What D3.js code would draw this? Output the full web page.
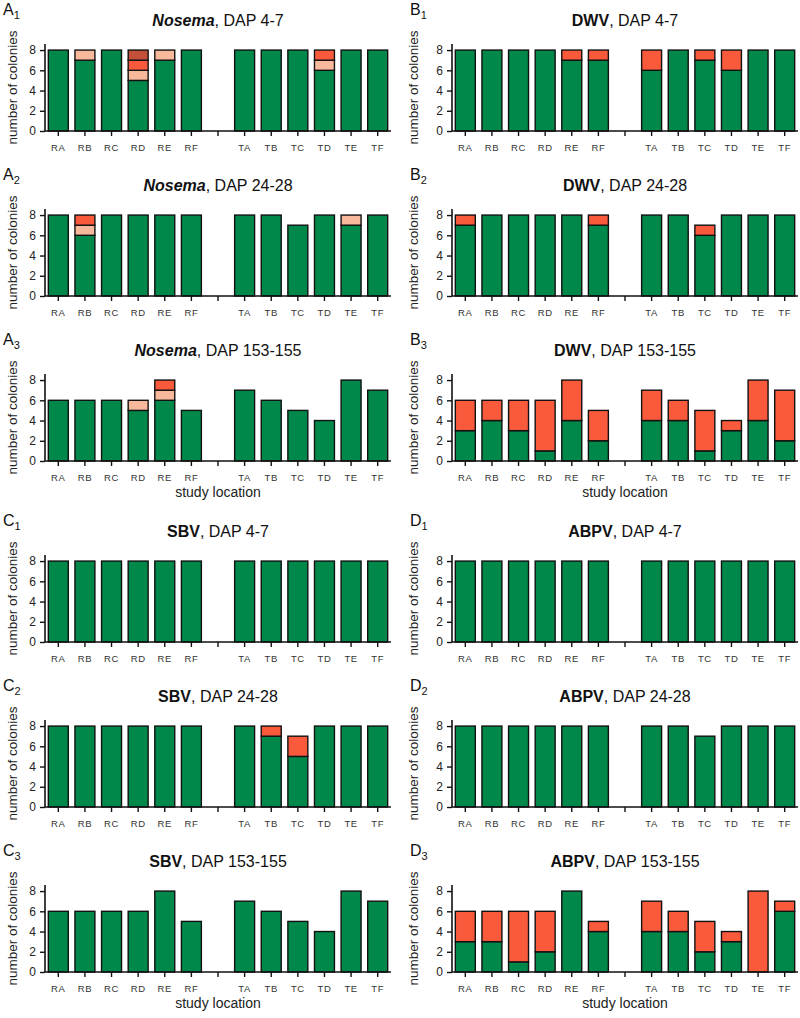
<!DOCTYPE html>
<html><head><meta charset="utf-8">
<script src="https://cdn.jsdelivr.net/npm/d3@7"></script>
<style>
body{margin:0;background:#fff;}
svg{display:block;font-family:Arial,"Liberation Sans",sans-serif;}
</style></head>
<body><svg id="c" width="800" height="1018"></svg>
<script>
// ---- data ----
const locations = ["RA","RB","RC","RD","RE","RF","gap","TA","TB","TC","TD","TE","TF"];
const sites = ["RA","RB","RC","RD","RE","RF","TA","TB","TC","TD","TE","TF"];
const yTicks = [0,2,4,6,8];
const seriesKeys = ["green","pink","red","dark"];
const seriesColors = {green:"#00884a", pink:"#f7b89c", red:"#fa5a3c", dark:"#c4503a"};

// Nosema
const A1_green=[8,7,8,5,7,8, 8,8,8,6,8,8];
const A1_pink =[0,1,0,1,1,0, 0,0,0,1,0,0];
const A1_red  =[0,0,0,1,0,0, 0,0,0,1,0,0];
const A1_dark =[0,0,0,1,0,0, 0,0,0,0,0,0];
const A2_green=[8,6,8,8,8,8, 8,8,7,8,7,8];
const A2_pink =[0,1,0,0,0,0, 0,0,0,0,1,0];
const A2_red  =[0,1,0,0,0,0, 0,0,0,0,0,0];
const A3_green=[6,6,6,5,6,5, 7,6,5,4,8,7];
const A3_pink =[0,0,0,1,1,0, 0,0,0,0,0,0];
const A3_red  =[0,0,0,0,1,0, 0,0,0,0,0,0];
// DWV
const B1_green=[8,8,8,8,7,7, 6,8,7,6,8,8];
const B1_red  =[0,0,0,0,1,1, 2,0,1,2,0,0];
const B2_green=[7,8,8,8,8,7, 8,8,6,8,8,8];
const B2_red  =[1,0,0,0,0,1, 0,0,1,0,0,0];
const B3_green=[3,4,3,1,4,2, 4,4,1,3,4,2];
const B3_red  =[3,2,3,5,4,3, 3,2,4,1,4,5];
// SBV
const C1_green=[8,8,8,8,8,8, 8,8,8,8,8,8];
const C2_green=[8,8,8,8,8,8, 8,7,5,8,8,8];
const C2_red  =[0,0,0,0,0,0, 0,1,2,0,0,0];
const C3_green=[6,6,6,6,8,5, 7,6,5,4,8,7];
// ABPV
const D1_green=[8,8,8,8,8,8, 8,8,8,8,8,8];
const D2_green=[8,8,8,8,8,8, 8,8,7,8,8,8];
const D3_green=[3,3,1,2,8,4, 4,4,2,3,0,6];
const D3_red  =[3,3,5,4,0,1, 3,2,3,1,8,1];

const zeros = sites.map(()=>0);
const panels = [
 {id:"A",n:"1",bold:"Nosema",italic:true,dap:"DAP 4-7",col:0,row:0,green:A1_green,pink:A1_pink,red:A1_red,dark:A1_dark},
 {id:"A",n:"2",bold:"Nosema",italic:true,dap:"DAP 24-28",col:0,row:1,green:A2_green,pink:A2_pink,red:A2_red},
 {id:"A",n:"3",bold:"Nosema",italic:true,dap:"DAP 153-155",col:0,row:2,green:A3_green,pink:A3_pink,red:A3_red,xlabel:true},
 {id:"B",n:"1",bold:"DWV",dap:"DAP 4-7",col:1,row:0,green:B1_green,red:B1_red},
 {id:"B",n:"2",bold:"DWV",dap:"DAP 24-28",col:1,row:1,green:B2_green,red:B2_red},
 {id:"B",n:"3",bold:"DWV",dap:"DAP 153-155",col:1,row:2,green:B3_green,red:B3_red,xlabel:true},
 {id:"C",n:"1",bold:"SBV",dap:"DAP 4-7",col:0,row:3,green:C1_green},
 {id:"C",n:"2",bold:"SBV",dap:"DAP 24-28",col:0,row:4,green:C2_green,red:C2_red},
 {id:"C",n:"3",bold:"SBV",dap:"DAP 153-155",col:0,row:5,green:C3_green,xlabel:true},
 {id:"D",n:"1",bold:"ABPV",dap:"DAP 4-7",col:1,row:3,green:D1_green},
 {id:"D",n:"2",bold:"ABPV",dap:"DAP 24-28",col:1,row:4,green:D2_green},
 {id:"D",n:"3",bold:"ABPV",dap:"DAP 153-155",col:1,row:5,green:D3_green,red:D3_red,xlabel:true},
];

// ---- layout ----
const colX = [45, 452];
const plotW = 346;
const rowZero = [131, 296, 461, 642, 807, 972];
const yLabelX = [12, 413];

const svg = d3.select("#c");

panels.forEach(p=>{
  const x0 = colX[p.col], zero = rowZero[p.row];
  const g = svg.append("g");
  const x = d3.scaleBand().domain(locations).range([x0, x0+plotW]).paddingInner(0.25).paddingOuter(0.125);
  const y = d3.scaleLinear().domain([0, 8.6]).range([zero, zero-87]);

  const rows = sites.map((s,i)=>{
    const r = {site:s};
    seriesKeys.forEach(k=>{ r[k] = (p[k]||zeros)[i]; });
    return r;
  });
  const stack = d3.stack().keys(seriesKeys)(rows);
  stack.forEach(layer=>{
    g.append("g").selectAll("rect").data(layer.filter(d=>d[1]-d[0]>0)).join("rect")
      .attr("x", d=>x(d.data.site))
      .attr("width", x.bandwidth())
      .attr("y", d=>y(d[1]))
      .attr("height", d=>y(d[0])-y(d[1]))
      .attr("fill", seriesColors[layer.key])
      .attr("stroke","#111").attr("stroke-width",1.4);
  });

  // axes
  const ya = g.append("g").attr("transform",`translate(${x0},0)`)
    .call(d3.axisLeft(y).tickValues(yTicks).tickSize(5).tickPadding(4).tickFormat(d3.format("d")));
  const xa = g.append("g").attr("transform",`translate(0,${zero})`)
    .call(d3.axisBottom(x).tickSize(5).tickPadding(8).tickFormat(d=>d==="gap"?"":d));
  [ya,xa].forEach(a=>{
    a.select(".domain").attr("stroke","#111").attr("stroke-width",1.6);
    a.selectAll(".tick line").attr("stroke","#111").attr("stroke-width",1.4);
  });
  ya.select(".domain").attr("d",`M-0,${zero}V${y(8.6)}`);
  xa.select(".domain").attr("d",`M${x0},0H${x0+plotW}`);
  ya.selectAll("text").attr("font-size",12).attr("fill","#222").attr("font-family","Arial, Liberation Sans");
  xa.selectAll("text").attr("font-size",9.5).attr("fill","#333").attr("letter-spacing","0.6px").attr("font-family","Arial, Liberation Sans");

  // y label
  const yc = (zero + y(8))/2 - 3;
  g.append("text").attr("transform",`translate(${yLabelX[p.col]},${yc}) rotate(-90)`)
    .attr("text-anchor","middle").attr("dominant-baseline","central")
    .attr("font-size",13.5).attr("fill","#222").text("number of colonies");

  // title
  const t = g.append("text").attr("x", x0+plotW/2).attr("y", y(8)-24)
    .attr("text-anchor","middle").attr("font-size",16).attr("fill","#111");
  t.append("tspan").attr("font-weight","bold").attr("font-style",p.italic?"italic":"normal").text(p.bold);
  t.append("tspan").text(", " + p.dap);

  // panel label
  const pl = g.append("text").attr("x", x0-42).attr("y", zero-116).attr("font-size",16).attr("fill","#111");
  pl.append("tspan").text(p.id);
  pl.append("tspan").attr("font-size",11).attr("dy",4).text(p.n);

  if(p.xlabel){
    g.append("text").attr("x", x0+plotW/2).attr("y", zero+36).attr("text-anchor","middle")
      .attr("font-size",14).attr("fill","#222").text("study location");
  }
});
</script></body></html>
